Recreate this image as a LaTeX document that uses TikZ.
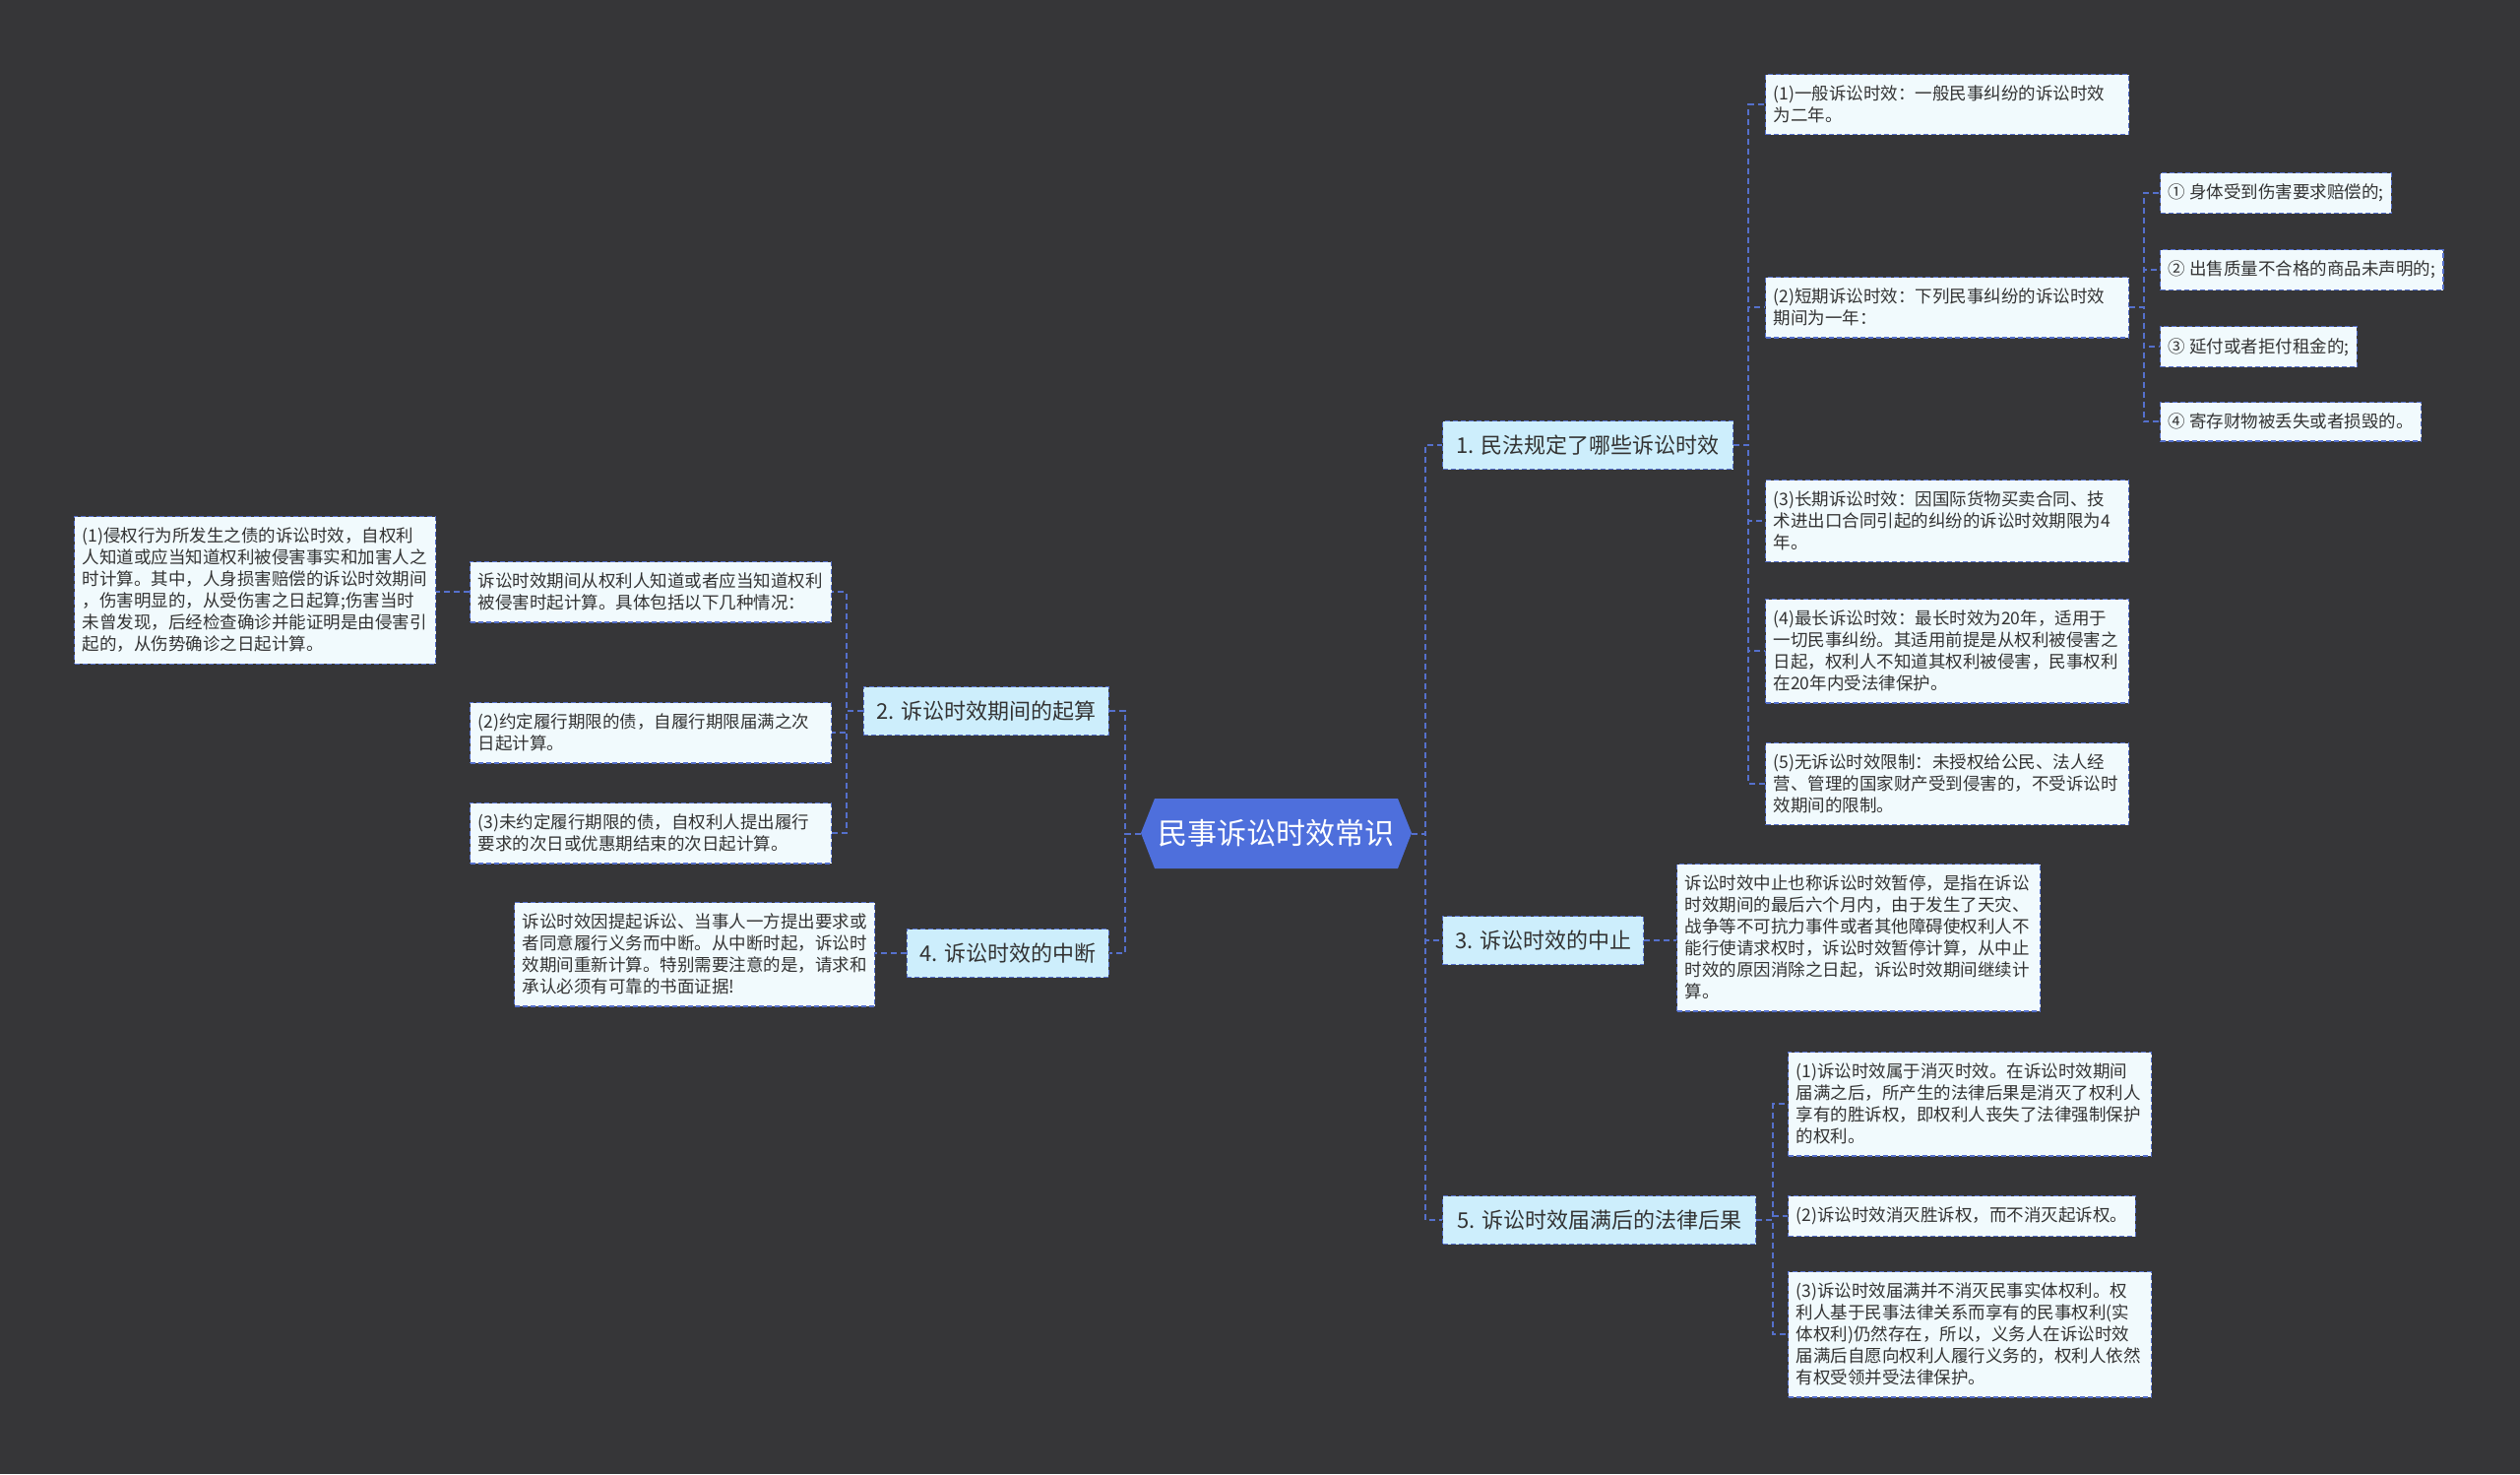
\documentclass[tikz,border=0pt]{standalone}
\usepackage{fontspec}
\setmainfont{Noto Sans CJK SC}
\definecolor{bg}{HTML}{363638}
\definecolor{lineblue}{HTML}{5570CC}
\definecolor{leaffill}{HTML}{F1FAFD}
\definecolor{topicfill}{HTML}{CDEEFC}
\definecolor{rootblue}{HTML}{4E6FDC}
\definecolor{textdark}{HTML}{333333}
\begin{document}
\begin{tikzpicture}[x=1pt,y=-1pt,
  conn/.style={draw=lineblue, line width=2pt, dash pattern=on 6pt off 4pt},
  leaf/.style={draw=lineblue, line width=1.3pt, dash pattern=on 5pt off 3pt, fill=leaffill, text=textdark,
    font=\fontsize{17.5}{22}\selectfont, align=left, inner xsep=8pt, inner ysep=11.5pt, anchor=north west},
  wide/.style={text width=353pt},
  topic/.style={draw=lineblue, line width=1.3pt, dash pattern=on 5pt off 3pt, fill=topicfill, text=textdark,
    font=\fontsize{22}{26}\selectfont, minimum height=49pt, inner xsep=0pt}]
\path[use as bounding box, fill=bg] (0,0) rectangle (2560,1497);

% trunks
\coordinate (tR) at (1448,0);
\coordinate (tL) at (1143,0);
\coordinate (tA) at (1776,0);
\coordinate (tB) at (2178,0);
\coordinate (tC) at (1801,0);
\coordinate (tD) at (860,0);

% root
\fill[rootblue] (1159,846) -- (1173,811) -- (1420,811) -- (1434,846) -- (1420,882) -- (1173,882) -- cycle;
\node[font=\fontsize{30}{35}\selectfont, text=white, minimum width=275pt, minimum height=71pt, inner sep=0pt] (root) at (1296.5,846.5) {民事诉讼时效常识};

% topics
\node[topic, anchor=west, minimum width=295pt] (n1) at (1465,452) {1. 民法规定了哪些诉讼时效};
\node[topic, anchor=west, minimum width=204pt] (n3) at (1465,955) {3. 诉讼时效的中止};
\node[topic, anchor=west, minimum width=318pt] (n5) at (1465,1239) {5. 诉讼时效届满后的法律后果};
\node[topic, anchor=east, minimum width=249pt] (n2) at (1127,722) {2. 诉讼时效期间的起算};
\node[topic, anchor=east, minimum width=205pt] (n4) at (1127,968) {4. 诉讼时效的中断};

% branch 1 leaves
\node[leaf, wide] (c1) at (1793,75) {(1)一般诉讼时效：一般民事纠纷的诉讼时效\\为二年。};
\node[leaf, wide] (c2) at (1793,281) {(2)短期诉讼时效：下列民事纠纷的诉讼时效\\期间为一年：};
\node[leaf, wide] (c3) at (1793,487) {(3)长期诉讼时效：因国际货物买卖合同、技\\术进出口合同引起的纠纷的诉讼时效期限为4\\年。};
\node[leaf, wide] (c4) at (1793,608) {(4)最长诉讼时效：最长时效为20年，适用于\\一切民事纠纷。其适用前提是从权利被侵害之\\日起，权利人不知道其权利被侵害，民事权利\\在20年内受法律保护。};
\node[leaf, wide] (c5) at (1793,754) {(5)无诉讼时效限制：未授权给公民、法人经\\营、管理的国家财产受到侵害的，不受诉讼时\\效期间的限制。};

\node[leaf] (d1) at (2194,175) {① 身体受到伤害要求赔偿的;};
\node[leaf] (d2) at (2194,253) {② 出售质量不合格的商品未声明的;};
\node[leaf] (d3) at (2194,331) {③ 延付或者拒付租金的;};
\node[leaf] (d4) at (2194,408) {④ 寄存财物被丢失或者损毁的。};

% branch 3 leaf
\node[leaf, wide] (e1) at (1703,877) {诉讼时效中止也称诉讼时效暂停，是指在诉讼\\时效期间的最后六个月内，由于发生了天灾、\\战争等不可抗力事件或者其他障碍使权利人不\\能行使请求权时，诉讼时效暂停计算，从中止\\时效的原因消除之日起，诉讼时效期间继续计\\算。};

% branch 5 leaves
\node[leaf, wide] (f1) at (1816,1068) {(1)诉讼时效属于消灭时效。在诉讼时效期间\\届满之后，所产生的法律后果是消灭了权利人\\享有的胜诉权，即权利人丧失了法律强制保护\\的权利。};
\node[leaf] (f2) at (1816,1214) {(2)诉讼时效消灭胜诉权，而不消灭起诉权。};
\node[leaf, wide] (f3) at (1816,1291) {(3)诉讼时效届满并不消灭民事实体权利。权\\利人基于民事法律关系而享有的民事权利(实\\体权利)仍然存在，所以，义务人在诉讼时效\\届满后自愿向权利人履行义务的，权利人依然\\有权受领并受法律保护。};

% branch 2 leaves
\node[leaf, text width=351pt] (g1) at (477,570) {诉讼时效期间从权利人知道或者应当知道权利\\被侵害时起计算。具体包括以下几种情况：};
\node[leaf, text width=351pt] (g0) at (75,524) {(1)侵权行为所发生之债的诉讼时效，自权利\\人知道或应当知道权利被侵害事实和加害人之\\时计算。其中，人身损害赔偿的诉讼时效期间\\，伤害明显的，从受伤害之日起算;伤害当时\\未曾发现，后经检查确诊并能证明是由侵害引\\起的，从伤势确诊之日起计算。};
\node[leaf, text width=351pt] (g2) at (477,713) {(2)约定履行期限的债，自履行期限届满之次\\日起计算。};
\node[leaf, text width=351pt] (g3) at (477,815) {(3)未约定履行期限的债，自权利人提出履行\\要求的次日或优惠期结束的次日起计算。};

% branch 4 leaf
\node[leaf, text width=350pt] (h1) at (522,916) {诉讼时效因提起诉讼、当事人一方提出要求或\\者同意履行义务而中断。从中断时起，诉讼时\\效期间重新计算。特别需要注意的是，请求和\\承认必须有可靠的书面证据!};

% connectors
\foreach \t in {n1,n3,n5} \draw[conn] (root.east) -- (root.east -| tR) |- (\t.west);
\foreach \t in {n2,n4} \draw[conn] (root.west) -- (root.west -| tL) |- (\t.east);
\foreach \t in {c1,c2,c3,c4,c5} \draw[conn] (n1.east) -- (n1.east -| tA) |- (\t.west);
\foreach \t in {d1,d2,d3,d4} \draw[conn] (c2.east) -- (c2.east -| tB) |- (\t.west);
\draw[conn] (n3.east) -- (n3.east -| e1.west);
\foreach \t in {f1,f2,f3} \draw[conn] (n5.east) -- (n5.east -| tC) |- (\t.west);
\foreach \t in {g1,g2,g3} \draw[conn] (n2.west) -- (n2.west -| tD) |- (\t.east);
\draw[conn] (g1.west) -- (g1.west -| g0.east);
\draw[conn] (n4.west) -- (n4.west -| h1.east);
\end{tikzpicture}
\end{document}
